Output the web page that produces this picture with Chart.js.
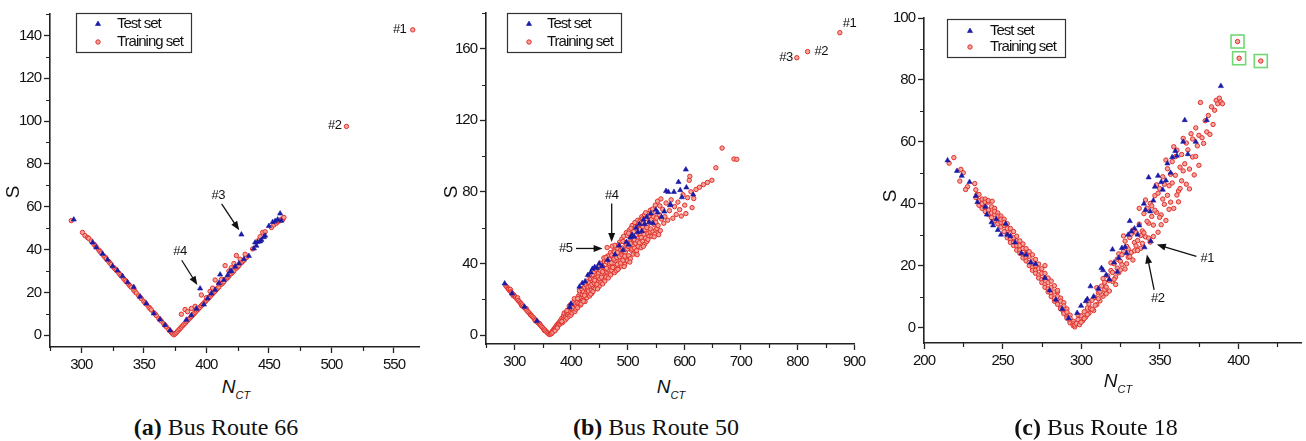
<!DOCTYPE html>
<html><head><meta charset="utf-8">
<script src="https://cdn.jsdelivr.net/npm/chart.js@4.4.1/dist/chart.umd.min.js"></script>
<style>
body{margin:0;width:1306px;height:441px;background:#fff;position:relative;overflow:hidden;font-family:'Liberation Sans',Arial,sans-serif;color:#111;}
canvas{position:absolute;top:0;}
.lbl{position:absolute;transform:translate(-50%,-50%);white-space:nowrap;}
.ylab{font-size:19px;transform:translate(-50%,-50%) rotate(-90deg);}
.xlab{font-size:19px;font-style:italic;}
.xlab sub{font-size:11px;font-style:italic;vertical-align:-6px;}
.cap{font-family:'Liberation Serif','Times New Roman',serif;font-size:24px;}
</style></head><body>
<canvas id="c66" width="440" height="370" style="left:0px"></canvas>
<canvas id="c50" width="440" height="370" style="left:430px"></canvas>
<canvas id="c18" width="440" height="370" style="left:866px"></canvas>

<div class="lbl ylab" style="left:13px;top:192px">S</div>
<div class="lbl ylab" style="left:451px;top:192px">S</div>
<div class="lbl ylab" style="left:890px;top:196px">S</div>
<div class="lbl xlab" style="left:236px;top:388px">N<sub>CT</sub></div>
<div class="lbl xlab" style="left:671px;top:388px">N<sub>CT</sub></div>
<div class="lbl xlab" style="left:1118px;top:382px">N<sub>CT</sub></div>
<div class="lbl cap" style="left:216px;top:427px"><b>(a)</b> Bus Route 66</div>
<div class="lbl cap" style="left:656px;top:427px"><b>(b)</b> Bus Route 50</div>
<div class="lbl cap" style="left:1096px;top:427px"><b>(c)</b> Bus Route 18</div>

<script>
// ---------------- DATA ----------------
const seriesNames = ['Test set', 'Training set'];

// (a) Bus Route 66
const route66XTicks = [300, 350, 400, 450, 500, 550];
const route66YTicks = [0, 20, 40, 60, 80, 100, 120, 140];
const route66TestPts = [
  [294,54],[309,43.3],[312,41],[317,38],[321,35.3],[325,32.2],[329,30.2],[333,27.6],[337,24.7],[342,22.5],[347,18],[352,14.8],[358,10.2],[363,7.3],[367,4.7],[371,2.2],
  [384,7.2],[388,9.3],[392,12.4],[395,21.8],[398,14.3],[401,17.2],[404,19.5],[407,21.2],[410,24.3],[411,28.3],[414,25.8],[417,28],[419,29.8],[420,30],[423,32],[426,33.5],[428,47],[430,35.5],[434,37],[438,40.5],[439,43.3],[440,41.8],[441,43.5],[443,43.8],[444,44.5],[446,45.8],[447,46.5],[450,51],[453,52.8],[455,53.3],[457,54],[459,56.8],[460,53.5]
];
const route66TrainPts = [
  [292,53.5],[301,48],[303,46.5],[305,45.6],[306,45.2],[308,44],[310,42.6],[311,41.9],[312,41.2],[314,39.8],[315,39.1],[316,38.4],[318,37],[319,36.4],[320,35.7],[322,34.4],[323,33.6],[324,33],[326,31.6],[327,31],[328,30.3],[330,29],[331,28.3],[332,27.6],[334,26.3],[335,25.7],[336,25],[338,23.7],[339,23],[340,22.4],[342,21],[343,20.4],[344,19.7],[346,18.4],[347,17.8],[348,17.1],[350,15.8],[351,15.1],[352,14.5],[354,13.1],[355,12.5],[356,11.8],[358,10.5],[359,9.9],[360,9.2],[362,7.9],[363,7.2],[364,6.6],[366,5.3],[367,4.6],[368,3.9],[370,2.6],[371,2],[372,1.3],[373,0.7],[374,0.2],
  [375,0.6],[376,1.2],[377,1.9],[378,2.5],[379,3.1],[380,3.8],[381,4.4],[382,5],[383,5.6],[384,6.3],[385,6.9],[386,7.5],[387,8.1],[388,8.8],[389,9.4],[390,10],[391,10.6],[392,11.3],[393,11.9],[394,12.5],[395,13.1],[396,13.8],[397,14.4],[398,15],[399,15.6],[400,16.3],[401,16.9],[402,17.5],[403,18.1],[404,18.8],[405,19.4],[406,20],[407,20.6],[408,21.3],[409,21.9],[410,22.5],[412,23.8],[413,24.4],[414,25],[416,26.3],[417,26.9],[418,27.5],[420,28.8],[421,29.4],[422,30],[424,31.3],[425,31.9],[426,32.5],[428,33.8],[429,34.4],[430,35],[432,36.3],
  [380,9.8],[383,12],[385,11],[388,12.5],[391,13.5],[396,18.8],[400,17.5],[403,20.5],[405,22],[407,25.8],[410,24],[412,26],[415,32.5],[418,30],[420,31.5],[422,33.5],[424,37.2],[427,35.5],[431,37.8],[437,40.3],[442,44.5],[443,46],[445,48],[447,48.3],[452,50.3],[454,51.5],[456,52.3],[457,53],[459,53.5],[460,54.2],[461,54],[462,55],
  [512,97.5],[565,142.6]
];

// (b) Bus Route 50
const route50XTicks = [300, 400, 500, 600, 700, 800, 900];
const route50YTicks = [0, 40, 80, 120, 160];
const route50TestPts = [
  [283,28.8],[296,23.2],[318,15.8],[340,7.8],
  [398,15.5],[400,17.5],[415,27],[420,29],[425,30],[430,33.5],[435,35],[438,37],[442,38],[446,37.5],[450,40],[455,38.5],[465,42],[478,45],[485,50],[492,47.5],[498,52],[502,50.5],[505,54.5],[508,56],[512,55],[515,60],[518,57.5],[521,62],[525,58],[528,64.5],[530,62],[534,66],[538,63],[541,68],[545,62.5],[550,70],[553,68.5],[560,66],[565,69],[568,80.5],[572,80],[575,72.5],[576,73],[582,80],[590,85.5],[593,81],[596,77],[603,92.5],[604,82.5],[616,78.5]
];
const route50TrainPts = [
  [285,27.5],[287,26.8],[289,26],[290,25.5],[292,24.8],[293,25.5],[294,24.2],[295,23.6],[297,23],[298,22],[299,22.4],[300,21.9],[302,21.2],[304,20.5],[305,20],[306,20.8],[307,19.3],[309,18.6],[311,17.9],[312,17.4],[313,16.5],[314,16.8],[316,16],[318,15.3],[320,14.6],[321,14.8],[322,13.9],[324,13.1],[326,12.4],[328,11.7],[329,11.2],[330,11],[332,10.3],[334,9.6],[336,8.9],[337,8],[338,8.2],[340,7.5],[342,6.9],[344,6.2],[345,6.3],[346,5.5],[348,4.8],[350,4.1],[352,3.4],[353,2.6],[354,2.8],[356,2.1],[358,1.4],[360,0.8],[362,0.3],
  [364,0.5],[366,1.2],[367,2.1],[369,2.6],[370,3.4],[366,0.9],[368,1.6],
  [371,3],[372,4.1],[373,3.5],[374,5.2],[375,4.4],[376,5.9],[377,5.1],[378,6.6],[379,5.8],[380,7.4],[372,2.4],[376,4.0],
  [381,6.2],[382,8.3],[383,7.1],[384,9.4],[385,6.9],[386,8.7],[387,10.8],[388,9.1],[389,11.6],[390,8.4],[384,7.6],[388,12.3],
  [391,10.2],[392,12.9],[393,9.5],[394,11.4],[395,14.1],[396,12.2],[397,10.6],[398,15.4],[399,13.3],[400,11.1],[393,13.7],[397,16.2],[400,17.1],
  [401,14.6],[402,12.4],[403,16.8],[404,13.9],[405,18.5],[406,15.2],[407,13.1],[408,17.4],[409,19.8],[410,16.1],[403,15.1],[406,20.3],[409,14.5],
  [411,18.2],[412,15.3],[413,21.7],[414,17.6],[415,19.9],[416,23.4],[417,16.8],[418,20.7],[419,18.9],[420,22.6],[412,20.4],[415,24.8],[419,25.9],[418,17.4],
  [421,19.5],[422,24.1],[423,21.3],[424,26.8],[425,18.7],[426,23.2],[427,27.9],[428,20.9],[429,25.3],[430,22.4],[422,18.9],[425,28.4],[428,30.1],[430,26.9],[424,22.2],
  [431,24.6],[432,29.2],[433,21.8],[434,27.4],[435,31.5],[436,25.1],[437,23.3],[438,29.8],[439,33.6],[440,26.7],[432,33.1],[435,22.9],[437,28.2],[440,31.2],[439,24.4],
  [441,29.1],[442,35.2],[443,25.9],[444,31.8],[445,27.6],[446,33.9],[447,37.1],[448,29.7],[449,34.6],[450,27.2],[442,30.6],[444,36.8],[446,28.4],[448,32.5],[450,38.3],[447,25.8],
  [451,31.4],[452,36.2],[453,29.3],[454,39.6],[455,33.7],[456,28.6],[457,37.9],[458,31.2],[459,41.1],[460,34.8],[452,40.2],[454,32.3],[456,35.4],[458,43.1],[460,30.2],[455,38.1],
  [461,37.1],[462,32.4],[463,40.8],[464,35.3],[465,44.2],[466,31.9],[467,38.6],[468,42.3],[469,34.4],[470,46.1],[462,43.5],[464,48.9],[466,36.5],[468,39.9],[470,33.6],[463,37.3],
  [471,40.4],[472,36.1],[473,49.7],[474,43.8],[475,38.2],[476,47.1],[477,34.9],[478,41.6],[479,45.3],[480,38.9],[472,44.7],[474,37.8],[476,42.5],[478,50.2],[480,35.9],[477,46.6],
  [481,43.4],[482,39.5],[483,48.3],[484,37.2],[485,45.7],[486,51.9],[487,41.3],[488,47.6],[489,38.6],[490,53.7],[482,46.1],[484,50.4],[486,43.9],[488,40.2],[490,44.9],[483,36.7],
  [491,48.7],[492,41.8],[493,55.2],[494,45.1],[495,39.4],[496,51.6],[497,43.2],[498,57.3],[499,47.9],[500,41.5],[492,52.3],[494,38.3],[496,46.3],[498,50.8],[500,55.6],[495,44.1],
  [501,49.6],[502,44.3],[503,58.6],[504,52.1],[505,42.7],[506,55.4],[507,47.4],[508,61.2],[509,50.3],[510,45.2],[502,56.9],[504,40.8],[506,59.7],[508,48.1],[510,53.6],[505,51.2],
  [511,57.8],[512,48.6],[513,62.9],[514,51.3],[515,45.6],[516,59.4],[517,54.1],[518,64.2],[519,49.5],[520,56.7],[512,53.2],[514,60.6],[516,47.2],[518,52.5],[520,61.8],[517,44.9],
  [521,51.6],[522,63.7],[523,55.9],[524,48.8],[525,66.1],[526,58.2],[527,52.4],[528,62.6],[529,56.3],[530,50.7],[522,59.1],[524,54.6],[526,64.9],[528,49.6],[530,67.3],[527,60.4],
  [531,58.9],[532,54.2],[533,65.1],[534,52.3],[535,61.4],[536,56.7],[537,67.8],[538,55.1],[539,63.2],[540,57.6],[532,68.4],[534,60.1],[536,53.4],[538,65.9],[540,69.7],
  [541,59.3],[542,64.7],[543,55.2],[544,70.4],[545,57.8],[546,66.2],[547,61.9],[548,56.4],[549,72.6],[550,63.1],[543,68.1],[547,54.9],[550,58.8],
  [551,65.4],[552,59.6],[553,74.8],[554,61.2],[555,56.1],[556,67.3],[557,72.2],[558,58.4],[560,64.9],[559,76.1],
  [562,70.3],[564,62.5],[566,66.1],[568,73.8],[571,64.2],[574,69.5],[577,75.6],[580,65.3],[583,71.8],[586,67.4],[589,74.3],[592,70.1],[595,66.5],[598,78.4],[601,72.6],[603,67.9],[606,76.8],[609,86.5],[610,88.7],[612,80.1],[614,71.2],[617,76.3],[621,81.4],[627,82.6],[634,84.1],[641,85.3],[649,86.5],[656,93.5],[667,104.5],[688,98.4],[693,98.2],
  [799,155],[818,158.4],[875,169]
];

// (c) Bus Route 18
const route18XTicks = [200, 250, 300, 350, 400];
const route18YTicks = [0, 20, 40, 60, 80, 100];
const route18TestPts = [
  [215,54],[221,50.6],[224,49],[229,47],[233,42.5],[234,40.5],[239,39],[240,36.5],[243,34],[244,33],[246,35],[247,31.5],[249,30],[252,33.5],[253,30],[255,29.5],[258,27.5],[262,24],[265,23.5],[268,21],[271,20.5],[277,16],[280,12],[284,9],[288,6],[292,3],
  [297.5,4.7],[300,7],[303,8.5],[304,9.2],[306,13.3],[308,10],[311,12.5],[313,19.2],[314,18.5],[316,17],[318,15.5],[320,25.2],[321,21],[323,18],[324,22.5],[326,25.7],[328,26],[329,24],[330,30],[331,34.4],[332,31],[334,32],[336,30],[337,33],[340,40],[341,38],[343,48.5],[344,37.5],[346,41],[347,45.5],[349,49],[351,47],[352,44.5],[354,47.5],[355,53],[357,50],[358,55],[360,57],[361,55.5],[365,60],[366,67],[368,56],[373,60],[380,67],[389,78],[340.4,25.9],[344.4,27.9]
];
const route18TrainPts = [
  [219,54.9],[216,53.1],[223.5,51.1],[225,50],[222.8,47.3],[227.7,45.5],[226.5,44.6],[232.3,46.5],[233.8,43],
  [233,42],[233,44.5],[235,41],[235,43],[235,39.5],[237,40],[237,41.5],[237,38.5],[239,41.5],[239,39],[239,37.5],[239,40.5],[241,40.5],[241,38],[241,36.5],[241,41],[243,39],[243,37],[243,35.5],[243.4,40.8],[245,38.5],[245,36.5],[245,34.5],[245,37.5],[247,37],[247,35.5],[247,33.5],[247,36],[249,36],[249,34],[249,32.5],[249,35],[251,35],[251,33],[251,31],[251,34],[253,33.5],[253,32],[253,30],[253,29],[255,32],[255,30.5],[255,28.5],[255,27.5],[257,31],[257,29],[257,27.5],[257,26.5],[259,29.5],[259,28],[259,26.5],[259,25],[261,28],[261,26.5],[261,25],[261,24],[263,27],[263,25.5],[263,23.5],[263,22.5],[265,25.5],[265,24],[265,22.5],[265,21.5],[267,24.5],[267,23],[267,21],[267,20],[269,23.5],[269,21.5],[269,19.5],[269,18.5],[271,22],[271,20],[271,18.5],[271,17.5],[273,20.5],[273,19],[273,17],[273,16],[275,19],[275,17.5],[275,15.5],[275,14.5],[277,17.5],[277,16],[277,14],[277,13],[277,20],[279,16],[279,14.5],[279,12.5],[279,11.5],[281,15],[281,13],[281,11],[281,10],[283,13.5],[283,11.5],[283,9.5],[283,8.5],[285,11.5],[285,10],[285,8],[285,7.5],[285,12],[287,9.5],[287,8.5],[287,6.5],[287,6],[289,8],[289,7],[289,5],[289,4.5],[291,6],[291,5],[291,3.5],[291,3],[293,4],[293,3],[293,2],[293,1.5],[295,2],[295,1.2],[295,0.6],[296,0.2],[296,0.8],
  [297,1.3],[298,2.6],[299,0.9],[300,3.8],[301,2.2],[302,5.1],[303,3.4],[304,6.3],[305,4.6],[298,4.1],[300,1.7],[302,2.9],[304,4.2],[305,7.6],
  [306,6.1],[307,8.8],[308,5.5],[309,9.7],[310,7.4],[311,11.2],[312,8.6],[313,13.4],[314,10.1],[315,14.6],[307,5.9],[309,7.2],[311,9.3],[313,10.8],[315,12.3],[310,12.9],[314,15.8],[312,11.5],
  [316,13.1],[317,16.7],[318,11.8],[319,18.4],[320,14.9],[321,20.6],[322,16.3],[323,22.1],[324,17.7],[325,21.4],[316,10.9],[318,15.2],[320,17.8],[322,13.9],[324,23.8],[325,18.6],[319,20.9],[321,15.6],[323,19.2],
  [326,20.3],[327,24.6],[328,18.9],[329,26.2],[330,22.7],[331,29.1],[332,24.3],[333,21.8],[334,27.5],[335,30.7],[326,23.5],[328,27.9],[330,25.4],[332,30.2],[334,24.8],[327,29.6],[331,22.9],[333,31.5],[335,26.4],[329,20.6],
  [336,28.1],[337,33.4],[338,25.6],[339,31.2],[340,36.8],[341,29.3],[342,38.5],[343,33.7],[344,27.6],[345,35.9],[336,24.9],[338,29.7],[340,30.6],[342,34.3],[344,40.1],[337,38.5],[339,27.2],[341,41.2],[343,28.9],[345,39.3],
  [346,33.1],[347,42.6],[348,37.2],[349,30.8],[350,44.9],[351,36.4],[352,48.7],[353,39.8],[354,34.6],[355,51.3],[346,29.4],[348,46.1],[350,35.6],[352,41.5],[354,54.1],[347,37.9],[349,43.4],[351,33.2],[353,46.3],[355,42.7],
  [356,45.8],[357,40.5],[358,53.6],[359,38.5],[360,49.2],[361,57.3],[362,44.1],[363,51.8],[364,47.4],[365,61.1],[356,38.2],[358,46.7],[360,55.2],[362,40.6],[364,55.9],[357,49.5],[359,58.4],[361,42.8],[363,44.9],[365,50.6],
  [366,52.9],[367,46.3],[368,57.4],[369,51.2],[370,62.6],[371,55.1],[372,49.3],[373,64.5],[374,58.7],[375,52.4],[367,59.6],[369,44.8],[371,60.9],[373,55.3],[375,62.1],
  [376,72.7],[377,61.3],[378,59.5],[379,66.8],[380,63.2],[381,68.5],[382,62.4],[383,71.3],[384,65.6],[385,70.2],[386,73.4],[387,72.3],[388,74.1],[389,72.9],[390,72.3],
  [399.6,92.4],[400.6,87],[414.4,86.1]
];

// ---------------- STYLE / LAYOUT ----------------
const FONT = "'Liberation Sans',Arial,sans-serif";
const AX = '#222';
const BLUE = '#1b1ba6';
const RED = '#e0302c';
const PINK = 'rgba(244,160,150,0.95)';

function toXY(arr) { return arr.map(p => ({x: p[0], y: p[1]})); }

function drawArrow(ctx, x1, y1, x2, y2) {
  const ang = Math.atan2(y2 - y1, x2 - x1);
  const L = 9, W = 3.5;
  ctx.save();
  ctx.strokeStyle = '#111'; ctx.fillStyle = '#111'; ctx.lineWidth = 1.3;
  ctx.beginPath(); ctx.moveTo(x1, y1);
  ctx.lineTo(x2 - Math.cos(ang) * L * 0.8, y2 - Math.sin(ang) * L * 0.8); ctx.stroke();
  ctx.beginPath();
  ctx.moveTo(x2, y2);
  ctx.lineTo(x2 - Math.cos(ang) * L - Math.sin(ang) * W, y2 - Math.sin(ang) * L + Math.cos(ang) * W);
  ctx.lineTo(x2 - Math.cos(ang) * L + Math.sin(ang) * W, y2 - Math.sin(ang) * L - Math.cos(ang) * W);
  ctx.closePath(); ctx.fill();
  ctx.restore();
}

function extras(cfg) {
  return {
    id: 'extras',
    beforeDraw(chart) { chart.ctx.letterSpacing = '-1px'; },
    afterDraw(chart) {
      const ctx = chart.ctx, xs = chart.scales.x, ys = chart.scales.y, a = chart.chartArea;
      ctx.save();
      // minor ticks
      ctx.strokeStyle = AX; ctx.lineWidth = 1.2;
      ctx.beginPath();
      for (let v = Math.ceil(xs.min / cfg.xMinor) * cfg.xMinor; v <= xs.max + 1e-9; v += cfg.xMinor) {
        if (cfg.xTicks.includes(v)) continue;
        const px = Math.round(xs.getPixelForValue(v)) + 0.5;
        ctx.moveTo(px, a.bottom); ctx.lineTo(px, a.bottom + 4);
      }
      for (let v = Math.ceil(ys.min / cfg.yMinor) * cfg.yMinor; v <= ys.max + 1e-9; v += cfg.yMinor) {
        if (cfg.yTicks.includes(v)) continue;
        const py = Math.round(ys.getPixelForValue(v)) + 0.5;
        ctx.moveTo(a.left - 4, py); ctx.lineTo(a.left, py);
      }
      ctx.stroke();
      // legend
      const lg = cfg.legend;
      ctx.strokeStyle = '#333'; ctx.lineWidth = 1.2;
      ctx.strokeRect(lg.x + 0.5, lg.y + 0.5, lg.w, lg.h);
      ctx.letterSpacing = '-1px';
      ctx.font = '15px ' + FONT; ctx.textBaseline = 'middle'; ctx.textAlign = 'left';
      chart.data.datasets.forEach((ds, i) => {
        const yy = lg.rows[i];
        ctx.fillStyle = ds.backgroundColor; ctx.strokeStyle = ds.borderColor; ctx.lineWidth = ds.borderWidth;
        Chart.helpers.drawPoint(ctx, {pointStyle: ds.pointStyle, radius: ds.pointRadius, borderWidth: ds.borderWidth, rotation: 0}, lg.markerX, yy);
        ctx.fillStyle = '#111';
        ctx.fillText(ds.label, lg.textX, yy);
      });
      // annotations
      ctx.letterSpacing = '-0.5px';
      ctx.font = '13px ' + FONT; ctx.fillStyle = '#111'; ctx.textAlign = 'center'; ctx.textBaseline = 'middle';
      (cfg.notes || []).forEach(n => {
        ctx.fillText(n.t, xs.getPixelForValue(n.x), ys.getPixelForValue(n.y));
        if (n.arrow) {
          const [x1, y1, x2, y2] = n.arrow;
          drawArrow(ctx, xs.getPixelForValue(x1), ys.getPixelForValue(y1), xs.getPixelForValue(x2), ys.getPixelForValue(y2));
        }
      });
      // highlight boxes
      ctx.strokeStyle = '#72d872'; ctx.lineWidth = 1.6;
      (cfg.boxes || []).forEach(b => {
        const px = xs.getPixelForValue(b[0]), py = ys.getPixelForValue(b[1]);
        ctx.strokeRect(px - 6.5, py - 6.5, 13, 13);
      });
      ctx.restore();
    }
  };
}

function makeChart(id, cfg) {
  const W = 440, H = 370;
  return new Chart(document.getElementById(id), {
    type: 'scatter',
    data: {datasets: [
      {label: seriesNames[0], data: toXY(cfg.test), pointStyle: 'triangle', pointRadius: 3, backgroundColor: BLUE, borderColor: BLUE, borderWidth: 0.6},
      {label: seriesNames[1], data: toXY(cfg.train), pointStyle: 'circle', pointRadius: 2.2, backgroundColor: PINK, borderColor: RED, borderWidth: 1}
    ]},
    options: {
      responsive: false, animation: false, events: [],
      layout: {padding: {left: 0, top: cfg.area.top, right: W - cfg.area.right, bottom: 0}},
      plugins: {legend: {display: false}, tooltip: {enabled: false}},
      scales: {
        x: {
          type: 'linear', min: cfg.xMin, max: cfg.xMax,
          afterBuildTicks: s => { s.ticks = cfg.xTicks.map(v => ({value: v})); },
          afterFit: s => { s.height = H - cfg.area.bottom; },
          grid: {display: true, drawOnChartArea: false, drawTicks: true, tickLength: 6, tickColor: AX, tickWidth: 1.3},
          border: {display: true, color: AX, width: 1.6},
          ticks: {font: {family: FONT, size: 15}, color: '#111', padding: 3, maxRotation: 0, autoSkip: false}
        },
        y: {
          type: 'linear', min: cfg.yMin, max: cfg.yMax,
          afterBuildTicks: s => { s.ticks = cfg.yTicks.map(v => ({value: v})); },
          afterFit: s => { s.width = cfg.area.left; },
          grid: {display: true, drawOnChartArea: false, drawTicks: true, tickLength: 6, tickColor: AX, tickWidth: 1.3},
          border: {display: true, color: AX, width: 1.6},
          ticks: {font: {family: FONT, size: 15}, color: '#111', padding: 3, autoSkip: false}
        }
      }
    },
    plugins: [extras(cfg)]
  });
}

makeChart('c66', {
  test: route66TestPts, train: route66TrainPts,
  xMin: 275, xMax: 570, yMin: -5.5, yMax: 150,
  xTicks: route66XTicks, yTicks: route66YTicks, xMinor: 25, yMinor: 10,
  area: {left: 50, top: 14, right: 419, bottom: 347},
  legend: {x: 76, y: 13, w: 115, h: 39, markerX: 98, textX: 117, rows: [24, 42]},
  notes: [
    {t: '#1', x: 554.5, y: 142.6},
    {t: '#2', x: 502.6, y: 97.9},
    {t: '#3', x: 409.5, y: 65.5, arrow: [412.2, 61.3, 426.3, 49]},
    {t: '#4', x: 379, y: 39, arrow: [380.3, 35, 392.8, 23.4]}
  ]
});

makeChart('c50', {
  test: route50TestPts, train: route50TrainPts,
  xMin: 250, xMax: 900, yMin: -5, yMax: 180,
  xTicks: route50XTicks, yTicks: route50YTicks, xMinor: 50, yMinor: 20,
  area: {left: 56, top: 13, right: 424, bottom: 344},
  legend: {x: 77, y: 13, w: 114, h: 39, markerX: 99, textX: 117, rows: [24, 42]},
  notes: [
    {t: '#1', x: 892, y: 174},
    {t: '#2', x: 842, y: 158.6},
    {t: '#3', x: 780, y: 155},
    {t: '#4', x: 472, y: 78, arrow: [472, 73.5, 472, 52]},
    {t: '#5', x: 391, y: 48.4, arrow: [409, 48.4, 456, 48.4]}
  ]
});

makeChart('c18', {
  test: route18TestPts, train: route18TrainPts,
  xMin: 200, xMax: 440, yMin: -5, yMax: 100,
  xTicks: route18XTicks, yTicks: route18YTicks, xMinor: 25, yMinor: 10,
  area: {left: 58, top: 18, right: 439, bottom: 343},
  legend: {x: 81, y: 19, w: 118, h: 38, markerX: 104, textX: 124, rows: [31, 47]},
  notes: [
    {t: '#1', x: 380.3, y: 22.2, arrow: [373.4, 23, 348.2, 26.8]},
    {t: '#2', x: 348.8, y: 9.3, arrow: [346.5, 12.2, 341.9, 23.6]}
  ],
  boxes: [[399.6, 92.4], [400.6, 87], [414.4, 86.1]]
});
</script>
</body></html>
